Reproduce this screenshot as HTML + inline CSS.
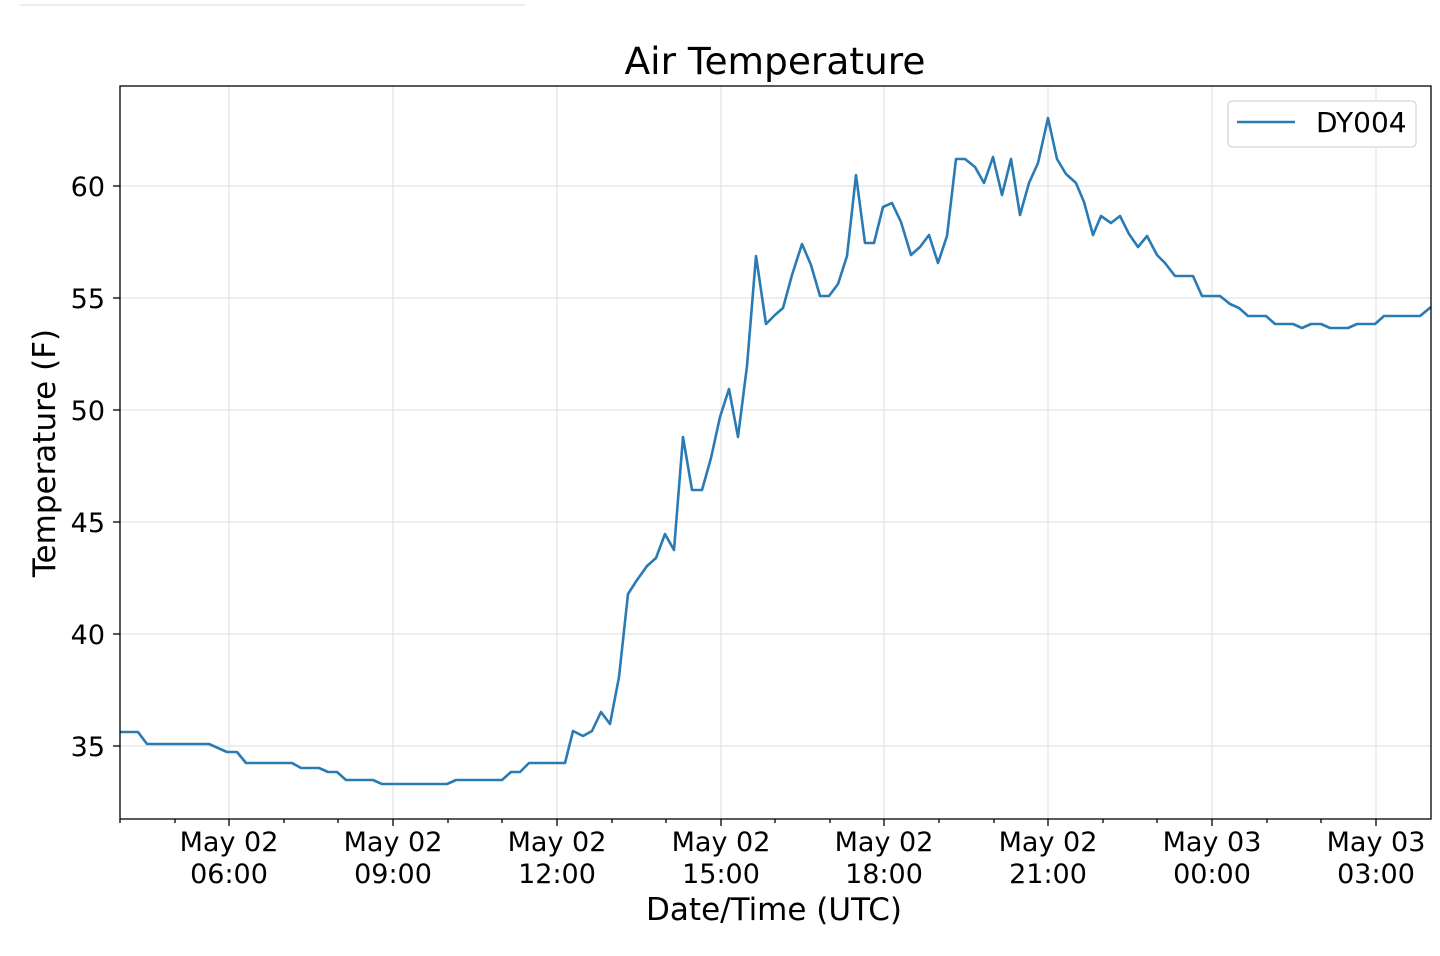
<!DOCTYPE html>
<html><head><meta charset="utf-8"><style>body{margin:0;background:#fff}</style></head><body>
<svg width="1440" height="951" viewBox="0 0 1440 951" xmlns="http://www.w3.org/2000/svg" font-family="'DejaVu Sans','Liberation Sans',sans-serif">
<line x1="20" y1="5" x2="525" y2="5" stroke="#eee" stroke-width="2"/>
<text x="775" y="74" font-size="37.5" text-anchor="middle" fill="#000">Air Temperature</text>
<g stroke="#e8e8e8" stroke-width="1.5">
<line x1="229" y1="86" x2="229" y2="819"/><line x1="393" y1="86" x2="393" y2="819"/><line x1="557" y1="86" x2="557" y2="819"/><line x1="721" y1="86" x2="721" y2="819"/><line x1="884" y1="86" x2="884" y2="819"/><line x1="1048" y1="86" x2="1048" y2="819"/><line x1="1212" y1="86" x2="1212" y2="819"/><line x1="1376" y1="86" x2="1376" y2="819"/>
<line x1="120" y1="186" x2="1431" y2="186"/><line x1="120" y1="298" x2="1431" y2="298"/><line x1="120" y1="410" x2="1431" y2="410"/><line x1="120" y1="522" x2="1431" y2="522"/><line x1="120" y1="634" x2="1431" y2="634"/><line x1="120" y1="746" x2="1431" y2="746"/>
</g>
<polyline fill="none" stroke="#2a7ab3" stroke-width="2.6" stroke-linejoin="round" points="120,732 138,732 147,744 209,744 227,752 237,752 246,763 292,763 301,768 319,768 328,772 337,772 346,780 373,780 382,784 447,784 456,780 502,780 511,772 520,772 529,763 565,763 573,731 583,736 592,731 601,712 610,724 619,677 628,594 637,580 647,566 656,558 665,534 674,550 683,437 692,490 702,490 711,458 720,417 729,389 738,437 747,366 756,256 766,324 775,315 783,308 792,275 802,244 811,265 820,296 829,296 838,284 847,256 856,175 865,243 874,243 883,207 892,203 901,222 911,255 920,247 929,235 938,263 947,236 956,159 965,159 975,167 984,183 993,157 1002,195 1011,159 1020,215 1029,183 1038,163 1048,118 1057,159 1066,174 1076,183 1084,202 1093,235 1101,216 1111,223 1120,216 1129,234 1138,247 1147,236 1157,255 1165,263 1175,276 1193,276 1202,296 1220,296 1230,304 1239,308 1248,316 1266,316 1275,324 1293,324 1302,328 1311,324 1321,324 1330,328 1348,328 1357,324 1375,324 1384,316 1420,316 1431,307"/>
<rect x="120" y="86" width="1311" height="733" fill="none" stroke="#000" stroke-width="1.3"/>
<g stroke="#000" stroke-width="1.3">
<line x1="229" y1="819" x2="229" y2="826"/><line x1="393" y1="819" x2="393" y2="826"/><line x1="557" y1="819" x2="557" y2="826"/><line x1="721" y1="819" x2="721" y2="826"/><line x1="884" y1="819" x2="884" y2="826"/><line x1="1048" y1="819" x2="1048" y2="826"/><line x1="1212" y1="819" x2="1212" y2="826"/><line x1="1376" y1="819" x2="1376" y2="826"/>
<line x1="120" y1="819" x2="120" y2="823"/><line x1="175" y1="819" x2="175" y2="823"/><line x1="284" y1="819" x2="284" y2="823"/><line x1="338" y1="819" x2="338" y2="823"/><line x1="448" y1="819" x2="448" y2="823"/><line x1="502" y1="819" x2="502" y2="823"/><line x1="612" y1="819" x2="612" y2="823"/><line x1="666" y1="819" x2="666" y2="823"/><line x1="775" y1="819" x2="775" y2="823"/><line x1="830" y1="819" x2="830" y2="823"/><line x1="939" y1="819" x2="939" y2="823"/><line x1="994" y1="819" x2="994" y2="823"/><line x1="1103" y1="819" x2="1103" y2="823"/><line x1="1157" y1="819" x2="1157" y2="823"/><line x1="1267" y1="819" x2="1267" y2="823"/><line x1="1321" y1="819" x2="1321" y2="823"/>
<line x1="113" y1="186" x2="120" y2="186"/><line x1="113" y1="298" x2="120" y2="298"/><line x1="113" y1="410" x2="120" y2="410"/><line x1="113" y1="522" x2="120" y2="522"/><line x1="113" y1="634" x2="120" y2="634"/><line x1="113" y1="746" x2="120" y2="746"/>
</g>
<g font-size="27" fill="#000" text-anchor="end">
<text x="105" y="196">60</text><text x="105" y="308">55</text><text x="105" y="420">50</text><text x="105" y="532">45</text><text x="105" y="644">40</text><text x="105" y="756">35</text>
</g>
<g font-size="27" fill="#000" text-anchor="middle">
<text x="229" y="851">May 02</text><text x="229" y="883">06:00</text>
<text x="393" y="851">May 02</text><text x="393" y="883">09:00</text>
<text x="557" y="851">May 02</text><text x="557" y="883">12:00</text>
<text x="721" y="851">May 02</text><text x="721" y="883">15:00</text>
<text x="884" y="851">May 02</text><text x="884" y="883">18:00</text>
<text x="1048" y="851">May 02</text><text x="1048" y="883">21:00</text>
<text x="1212" y="851">May 03</text><text x="1212" y="883">00:00</text>
<text x="1376" y="851">May 03</text><text x="1376" y="883">03:00</text>
</g>
<text x="774" y="920" font-size="31" text-anchor="middle" fill="#000">Date/Time (UTC)</text>
<text transform="translate(55,453) rotate(-90)" font-size="31" text-anchor="middle" fill="#000">Temperature (F)</text>
<rect x="1228" y="101" width="188" height="46" rx="4" fill="#fff" stroke="#d6d6d6" stroke-width="1.3"/>
<line x1="1237" y1="122" x2="1295" y2="122" stroke="#2a7ab3" stroke-width="2.6"/>
<text x="1316" y="132" font-size="28" fill="#000">DY004</text>
</svg>
</body></html>
